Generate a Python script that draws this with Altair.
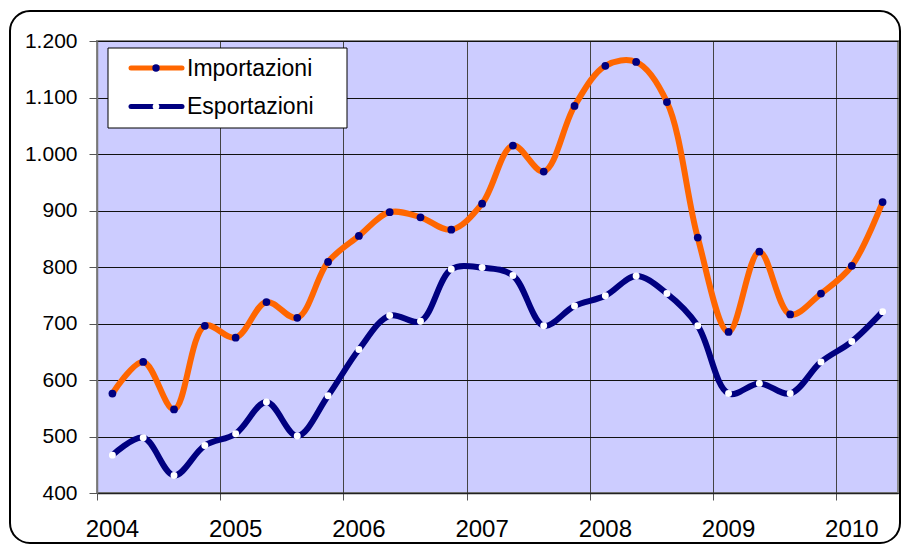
import altair as alt
import pandas as pd

# Quarterly periods 2004-T1 .. 2010-T2
anni = [2004, 2005, 2006, 2007, 2008, 2009, 2010]
periodi = [f"{a}-T{q}" for a in anni for q in (1, 2, 3, 4)][:26]

importazioni = [576, 632, 548, 696,
                675, 738, 710, 809,
                855, 897, 888, 866,
                912, 1015, 969, 1085,
                1156, 1163, 1092, 852,
                685, 827, 716, 753,
                802, 915]

esportazioni = [467, 498, 431, 484,
                505, 561, 501, 572,
                654, 714, 704, 796,
                799, 785, 696, 731,
                749, 784, 753, 696,
                576, 594, 576, 632,
                668, 721]

y_ticks = [400, 500, 600, 700, 800, 900, 1000, 1100, 1200]

ORANGE = "#FF6600"
NAVY = "#000080"
FONT = "Liberation Sans"

df = pd.DataFrame({
    "periodo": periodi,
    "pos": [i + 0.5 for i in range(len(periodi))],
    "Importazioni": importazioni,
    "Esportazioni": esportazioni,
})

# year labels sit under the first quarter of each year
df_anni = pd.DataFrame({
    "anno": [str(a) for a in anni],
    "pos": [4 * i + 0.5 for i in range(len(anni))],
})

W, H = 801, 452

x_scale = alt.Scale(domain=[0, 26], nice=False, zero=False)
x = alt.X("pos:Q", scale=x_scale,
          axis=alt.Axis(values=[0, 4, 8, 12, 16, 20, 24], labels=False,
                        tickSize=7, tickColor="#555555", tickWidth=1,
                        domainColor="#222222", domainWidth=1.5,
                        grid=True, gridColor="#444444", gridWidth=1,
                        title=None))

y_scale = alt.Scale(domain=[400, 1200], nice=False, zero=False)
y_axis = alt.Axis(values=y_ticks,
                  labelExpr="replace(format(datum.value, ','), ',', '.')",
                  labelFontSize=21, labelFont=FONT, labelColor="black",
                  labelPadding=12, tickSize=8, tickColor="#555555",
                  domainColor="#777777", domainWidth=1.5,
                  grid=True, gridColor="#111111", gridWidth=1,
                  title=None)

base = alt.Chart(df)

imp_line = base.mark_line(color=ORANGE, strokeWidth=6, interpolate="catmull-rom").encode(
    x=x, y=alt.Y("Importazioni:Q", scale=y_scale, axis=y_axis))
exp_line = base.mark_line(color=NAVY, strokeWidth=6, interpolate="catmull-rom").encode(
    x=x, y=alt.Y("Esportazioni:Q", scale=y_scale, axis=y_axis))
imp_pts = base.mark_point(filled=True, shape="circle", size=60, color=NAVY, opacity=1).encode(
    x=x, y=alt.Y("Importazioni:Q", scale=y_scale, axis=y_axis))
exp_pts = base.mark_point(filled=True, shape="circle", size=48, color="white", opacity=1).encode(
    x=x, y=alt.Y("Esportazioni:Q", scale=y_scale, axis=y_axis))

year_lbl = alt.Chart(df_anni).mark_text(font=FONT, fontSize=24, baseline="alphabetic",
                                        align="center", color="black").encode(
    x=alt.X("pos:Q", scale=x_scale), y=alt.value(H + 44), text="anno:N")

one = alt.Data(values=[{"k": 0}])

# Legend (manual)
leg_box = alt.Chart(one).mark_rect(fill="white", stroke="black", strokeWidth=1).encode(
    x=alt.value(11), x2=alt.value(250), y=alt.value(7), y2=alt.value(87))
leg_imp_line = alt.Chart(one).mark_rule(color=ORANGE, strokeWidth=5, strokeCap="round").encode(
    x=alt.value(34), x2=alt.value(85), y=alt.value(27))
leg_imp_dot = alt.Chart(one).mark_point(filled=True, shape="circle", size=55, color=NAVY, opacity=1).encode(
    x=alt.value(59), y=alt.value(27))
leg_exp_line = alt.Chart(one).mark_rule(color=NAVY, strokeWidth=5, strokeCap="round").encode(
    x=alt.value(34), x2=alt.value(85), y=alt.value(65.5))
leg_exp_dot = alt.Chart(one).mark_point(filled=True, shape="circle", size=45, color="white", opacity=1).encode(
    x=alt.value(59), y=alt.value(65.5))
leg_imp_txt = alt.Chart(one).mark_text(text="Importazioni", font=FONT, fontSize=23, align="left",
                                       baseline="alphabetic", color="black").encode(
    x=alt.value(90), y=alt.value(35))
leg_exp_txt = alt.Chart(one).mark_text(text="Esportazioni", font=FONT, fontSize=23, align="left",
                                       baseline="alphabetic", color="black").encode(
    x=alt.value(90), y=alt.value(73))

# Outer rounded frame
frame = alt.Chart(one).mark_rect(fill=None, stroke="black", strokeWidth=2, cornerRadius=20).encode(
    x=alt.value(-87), x2=alt.value(W + 2), y=alt.value(-30), y2=alt.value(H + 50))

chart = alt.layer(
    imp_line, exp_line, imp_pts, exp_pts, year_lbl,
    leg_box, leg_imp_line, leg_imp_dot, leg_exp_line, leg_exp_dot, leg_imp_txt, leg_exp_txt,
    frame,
).properties(
    width=W, height=H,
    padding={"left": 89, "top": 33, "right": 3, "bottom": 52},
    autosize=alt.AutoSizeParams(type="none"),
    background="white",
).configure_view(
    fill="#CCCCFF", stroke="#888888", strokeWidth=2
)

chart.save("out.html", embed_options={"renderer": "svg", "actions": False})
